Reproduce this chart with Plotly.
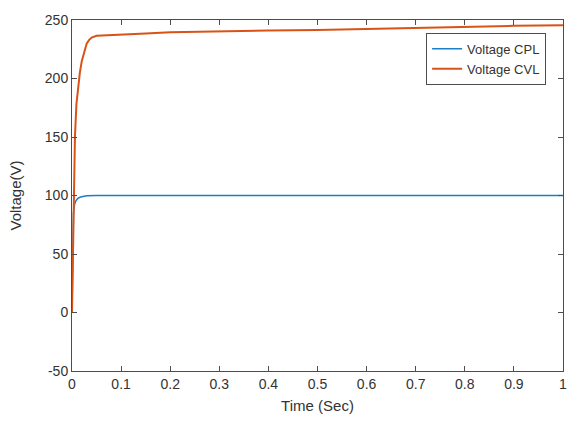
import plotly.graph_objects as go

# Source-load voltages over the first second of simulation
time_cvl = [0, 0.002, 0.004, 0.006, 0.009, 0.012, 0.016, 0.020, 0.024, 0.027,
            0.030, 0.035, 0.040, 0.050, 0.07, 0.1, 0.15, 0.2, 0.3, 0.4, 0.5,
            0.6, 0.7, 0.8, 0.9, 1.0]
voltage_cvl = [0, 60, 110, 150, 178, 192, 205, 215, 222, 226, 230, 233, 235,
               236.5, 237, 237.5, 238.5, 239.5, 240.5, 241, 241.5, 242.5,
               243.5, 244.5, 245, 245.5]

time_cpl = [0, 0.001, 0.002, 0.003, 0.005, 0.008, 0.012, 0.016, 0.022, 0.03,
            0.05, 0.1, 0.5, 1.0]
voltage_cpl = [0, 50, 75, 85, 92, 95.5, 97.5, 98.5, 99.2, 99.7, 100, 100,
               100, 100]

x_ticks = [0, 0.1, 0.2, 0.3, 0.4, 0.5, 0.6, 0.7, 0.8, 0.9, 1]
x_tick_labels = ["0", "0.1", "0.2", "0.3", "0.4", "0.5", "0.6", "0.7", "0.8", "0.9", "1"]
y_ticks = [-50, 0, 50, 100, 150, 200, 250]
y_tick_labels = ["-50", "0", "50", "100", "150", "200", "250"]

AXIS = "#4d4d4d"
TEXT = "#333333"

fig = go.Figure()
fig.add_trace(go.Scatter(x=time_cpl, y=voltage_cpl, mode="lines",
                         name="Voltage CPL",
                         line=dict(color="#1a7fc4", width=1.5)))
fig.add_trace(go.Scatter(x=time_cvl, y=voltage_cvl, mode="lines",
                         name="Voltage CVL",
                         line=dict(color="#D95319", width=2)))

axis_common = dict(showline=True, linecolor=AXIS, linewidth=1, mirror="ticks",
                   ticks="inside", ticklen=5, tickcolor=AXIS, showgrid=False,
                   zeroline=False, tickfont=dict(size=14, color=TEXT))

fig.update_xaxes(range=[0, 1], tickvals=x_ticks, ticktext=x_tick_labels,
                 title=dict(text="Time (Sec)", font=dict(size=15, color=TEXT),
                            standoff=9),
                 **axis_common)
fig.update_yaxes(range=[-50, 250], tickvals=y_ticks, ticktext=y_tick_labels,
                 title=dict(text="Voltage(V)", font=dict(size=15, color=TEXT),
                            standoff=19),
                 **axis_common)

fig.update_layout(
    width=579, height=423,
    margin=dict(l=72, r=13, t=15, b=51),
    paper_bgcolor="white", plot_bgcolor="white",
    font=dict(family="Liberation Sans, Arial, sans-serif", color=TEXT),
    showlegend=True,
    legend=dict(x=0.9656, y=0.9636, xanchor="right", yanchor="top",
                bgcolor="white", bordercolor=AXIS, borderwidth=1,
                font=dict(size=13, color=TEXT), tracegroupgap=0,
                itemwidth=30),
)

fig.write_html("out.html")
